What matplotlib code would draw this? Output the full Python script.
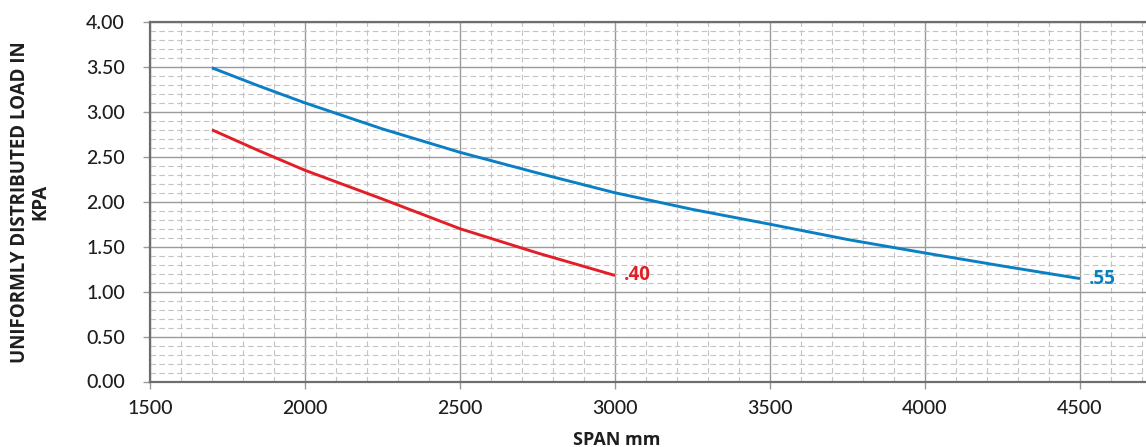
import matplotlib
matplotlib.use("Agg")
import matplotlib.pyplot as plt
from matplotlib.ticker import MultipleLocator, FormatStrFormatter

plt.rcParams['font.family'] = ['Open Sans', 'DejaVu Sans']

# span in mm and load in kPa
span_55 = [1700, 1850, 2000, 2250, 2500, 2750, 3000, 3250, 3500, 3750, 4000, 4250, 4500]
load_55 = [3.49, 3.29, 3.10, 2.81, 2.55, 2.32, 2.10, 1.915, 1.75, 1.58, 1.43, 1.285, 1.145]

span_40 = [1700, 1850, 2000, 2250, 2500, 2750, 3000]
load_40 = [2.80, 2.57, 2.35, 2.03, 1.70, 1.43, 1.18]

blue = '#0a7fc4'
red = '#e31e26'
text_col = '#1e1e1e'

fig = plt.figure(figsize=(11.46, 4.47), dpi=100)
ax = fig.add_axes([150 / 1146, 65.5 / 447, 996 / 1146, 359.5 / 447])

ax.plot(span_55, load_55, color=blue, lw=2.1, solid_capstyle='butt')
ax.plot(span_40, load_40, color=red, lw=2.1, solid_capstyle='butt')

ax.text(span_40[-1] + 30, load_40[-1], '.40', color=red, fontsize=13.5,
        fontweight='bold', va='center', ha='left')
ax.text(span_55[-1] + 30, load_55[-1], '.55', color=blue, fontsize=13.5,
        fontweight='bold', va='center', ha='left')

ax.set_xlim(1500, 4713)
ax.set_ylim(0, 4)
ax.xaxis.set_major_locator(MultipleLocator(500))
ax.xaxis.set_minor_locator(MultipleLocator(100))
ax.yaxis.set_major_locator(MultipleLocator(0.5))
ax.yaxis.set_minor_locator(MultipleLocator(0.1))
ax.yaxis.set_major_formatter(FormatStrFormatter('%.2f'))

ax.grid(which='major', color='#9a9a9a', lw=1.0, ls='-')
ax.grid(which='minor', color='#c4c4c4', lw=0.8, ls=(0, (5, 3)))
ax.set_axisbelow(True)

ax.spines['right'].set_visible(False)
for side in ['left', 'bottom', 'top']:
    ax.spines[side].set_color('#6e6e6e')
    ax.spines[side].set_linewidth(1.6)

ax.tick_params(which='major', length=5, width=1, color='#9a9a9a',
               labelsize=14, labelcolor=text_col)
ax.tick_params(axis='y', pad=13)
ax.tick_params(axis='x', pad=8)
ax.tick_params(which='minor', length=0)
for lab in ax.get_xticklabels() + ax.get_yticklabels():
    lab.set_family(['Lato', 'DejaVu Sans'])
    lab.set_fontweight('medium')

ax.set_xlabel('SPAN mm', fontsize=13, fontweight='bold', color=text_col)
ax.xaxis.set_label_coords((617 - 150) / 996, -0.138)
ax.set_ylabel('UNIFORMLY DISTRIBUTED LOAD IN\nKPA', fontsize=13.5,
              fontweight='bold', color=text_col, linespacing=1.0)
ax.yaxis.set_label_coords(-0.1, 0.5)

fig.savefig('out.png', dpi=100)
